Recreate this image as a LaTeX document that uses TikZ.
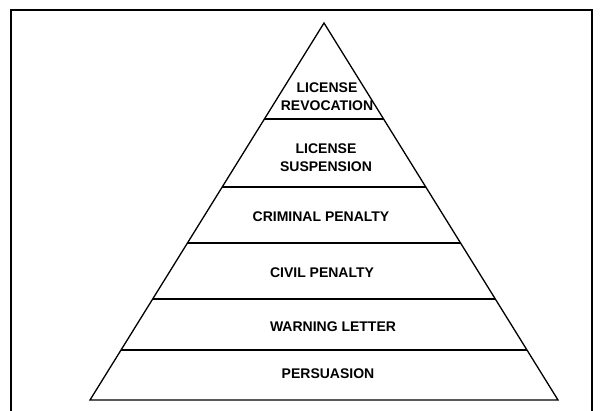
\documentclass[tikz,border=0pt]{standalone}
\usepackage{fontspec}
\setmainfont{Liberation Sans}
\usetikzlibrary{calc}

\begin{document}
\begin{tikzpicture}[
    x=1pt, y=-1pt,
    frame/.style = {
        line width=1.8pt
    },
    side/.style = {
        line width=1.3pt,
        line join=miter
    },
    layer/.style = {
        line width=1.2pt
    },
    tag/.style = {
        font=\fontsize{14}{18}\selectfont\bfseries,
        align=center,
        inner sep=0pt
    }
]
  \useasboundingbox (0,0) rectangle (602,410);

  % outer frame (bottom edge is cut off)
  \draw[frame] (11,412) -- (11,10) -- (592,10) -- (592,412);

  % pyramid
  \coordinate (apex) at (324,23);
  \coordinate (bl) at (90,400);
  \coordinate (br) at (558,400);
  \draw[side] (bl) -- (apex) -- (br) -- cycle;

  % layer lines
  \foreach \t [count=\i] in {0.2546, 0.4350, 0.5836, 0.7321, 0.8674} {
    \coordinate (ll\i) at ($(apex)!\t!(bl)$);
    \coordinate (lr\i) at ($(apex)!\t!(br)$);
    \draw[layer] (ll\i) -- (lr\i);
  }

  % labels
  \node[tag] (revocation) at (327,97) {LICENSE\\REVOCATION};
  \node[tag] (suspension) at (326,158) {LICENSE\\SUSPENSION};
  \node[tag] (criminal) at (321,217) {CRIMINAL PENALTY};
  \node[tag] (civil) at (322,273) {CIVIL PENALTY};
  \node[tag] (warning) at (333,327) {WARNING LETTER};
  \node[tag] (persuasion) at (328,374) {PERSUASION};
\end{tikzpicture}
\end{document}
